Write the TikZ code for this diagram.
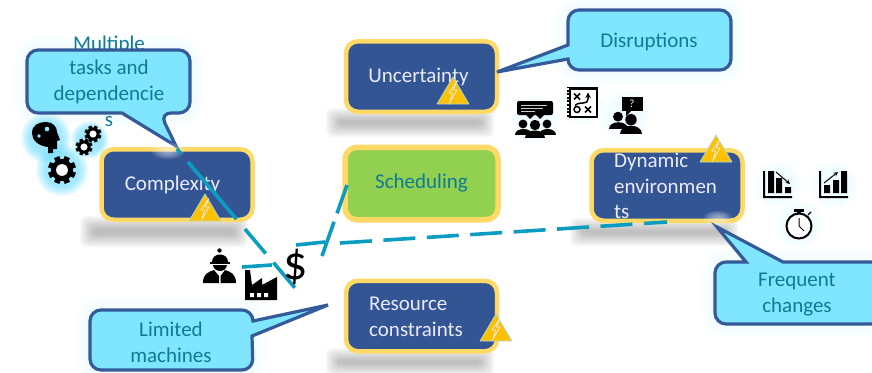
\documentclass[tikz,border=0pt]{standalone}
\usepackage{fontspec}
\setmainfont{Carlito}
\definecolor{boxfill}{HTML}{335593}
\definecolor{boxedge}{HTML}{FFD966}
\definecolor{callfill}{HTML}{80E5FF}
\definecolor{calledge}{HTML}{345A9A}
\definecolor{calltext}{HTML}{0F7A98}
\definecolor{dashcol}{HTML}{0B9CC2}
\definecolor{schedfill}{HTML}{92D050}
\definecolor{warn}{HTML}{FFC000}
\definecolor{warnedge}{HTML}{A8DCE8}
\definecolor{glowcol}{HTML}{4FD5FF}
\tikzset{
 x=1pt,y=-1pt,
 statebox/.style={draw=boxedge,line width=4.5pt,fill=boxfill,rounded corners=12pt,minimum width=151pt,minimum height=70.5pt,inner sep=0pt,text=white!92!blue,font=\fontsize{21}{26}\selectfont},
 calltxt/.style={text=calltext,font=\fontsize{21}{26}\selectfont,align=center,inner sep=0pt},
 calloutline/.style={draw=calledge,line width=3.2pt,fill=callfill,line join=miter},
 flow/.style={draw=dashcol,line width=3.6pt},
}
\newcommand{\softglow}[4]{% x y r opacity
 \foreach \k in {1,...,7}{\fill[glowcol,opacity=#4] (#1,#2) circle ({#3*(1.32-\k*0.07)});}}
\newcommand{\boxshadow}[4]{% x1 x2 y1 y2
 \foreach \k in {0,...,8}{\fill[black,opacity=.03,rounded corners=6pt] ({#1+\k*1.6},{#3+\k*1.5}) rectangle ({#2-\k*1.6},{#4-\k*1.5});}}
\newcommand{\whiteglow}[3]{%
 \foreach \k in {1,...,5}{\fill[white,opacity=.12] (#1,#2) ellipse ({#3*(1.2-\k*.18)} and {#3*.5*(1.2-\k*.18)});}}
\newcommand{\warnsign}[2]{% apex x y
 \begin{scope}[shift={(#1,#2)}]
 \fill[warn,draw=warnedge,line width=.7pt,line join=round] (0,0) -- (16,27) -- (-16,27) -- cycle;
 \fill[warn,draw=white!85!gray,line width=.8pt] (3,6) -- (-4,16) -- (-.5,16) -- (-3,25) -- (4,13) -- (.5,13) -- cycle;
 \end{scope}}
\newcommand{\gear}[4]{% x y r holecolor
 \begin{scope}[shift={(#1,#2)}]
 \foreach \a in {0,45,...,315}{\fill[black,rotate=\a+22.5] (-#3*.2,-#3) rectangle (#3*.2,0);}
 \fill[black] (0,0) circle ({#3*.78});
 \fill[#4] (0,0) circle ({#3*.42});
 \end{scope}}
\newcommand{\person}[3]{% x y(bottom centre) scale
 \begin{scope}[shift={(#1,#2)},scale=#3]
 \fill[black] (0,-13) circle (5.2);
 \fill[black] (-10,0) .. controls (-10,-10) and (10,-10) .. (10,0) -- cycle;
 \end{scope}}
\begin{document}
\begin{tikzpicture}
\useasboundingbox (0,0) rectangle (872,372);
% shadows
\boxshadow{80}{248}{216}{247}
\boxshadow{326}{494}{108}{137}
\boxshadow{570}{738}{218}{246}
\boxshadow{326}{494}{348}{376}
% callout glows
\foreach \w in {30,24,18,12,6}{
 \draw[glowcol,opacity=.016,line width=\w pt,line join=round,rounded corners=11pt] (27,50) rectangle (190,113);
 \draw[glowcol,opacity=.016,line width=\w pt,line join=round,rounded corners=11pt] (568,10) rectangle (731,70);
 \draw[glowcol,opacity=.016,line width=\w pt,line join=round,rounded corners=11pt] (715,262) rectangle (880,324);
 \draw[glowcol,opacity=.016,line width=\w pt,line join=round,rounded corners=11pt] (90,310) rectangle (253,370);
}
% icon glows
\softglow{46}{138}{20}{.1}\softglow{90}{140}{15}{.1}\softglow{62}{170}{21}{.1}
\softglow{535}{120}{21}{.012}\softglow{582}{103}{19}{.012}\softglow{625}{116}{21}{.012}
\softglow{778}{185}{20}{.012}\softglow{834}{185}{20}{.012}\softglow{799}{225}{20}{.012}
% boxes
\node[statebox] (cx) at (177,184.5) {\raisebox{-1pt}{\hspace*{-9pt}Complexity}};
\node[statebox] (un) at (421.5,76.5) {\raisebox{-1pt}{\hspace*{-6pt}Uncertainty}};
\node[statebox,fill=schedfill,text=calltext,line width=5.5pt,minimum width=153pt,minimum height=72.5pt] (sc) at (421.5,183.5) {\raisebox{-2pt}{Scheduling}};
\node[statebox] (dy) at (667,185.5) {};
\node[statebox] (re) at (421.5,316) {};
\node[text=white!92!blue,font=\fontsize{21}{25.5}\selectfont,align=left,inner sep=0pt,anchor=north west] (dytxt) at (614,153) {Dynamic\\environmen\\ts};
\node[text=white!92!blue,font=\fontsize{21}{26}\selectfont,align=left,inner sep=0pt,anchor=west] (retxt) at (369,317) {Resource\\constraints};
% text behind the callout
\node[calltxt,anchor=base] (mlt) at (109,50) {Multiple};
% callouts
\path[calloutline,rounded corners=11pt] (27,50) -- (190,50) -- (190,113) -- (160,113) [sharp corners] -- (176,146) -- (122,113) [rounded corners=11pt] -- (27,113) -- cycle;
\path[calloutline,rounded corners=11pt] (568,10) -- (731,10) -- (731,70) -- (568,70) [sharp corners] -- (568,59) -- (497,72) -- (568,45) [rounded corners=11pt] -- cycle;
\path[calloutline,rounded corners=11pt] (715,262) [sharp corners] -- (746,262) -- (717,227) -- (783,262) [rounded corners=11pt] -- (882,262) -- (882,324) -- (715,324) -- cycle;
\path[calloutline,rounded corners=11pt] (90,310) -- (253,310) [sharp corners] -- (253,321) -- (328,305) -- (252,336) [rounded corners=11pt] -- (253,370) -- (90,370) -- cycle;
% callout texts
\node[calltxt,anchor=north] (mtl) at (109,60) {tasks and\\dependencie\\s};
\node[calltxt] (dis) at (649,41.5) {Disruptions};
\node[calltxt] (fre) at (797,295) {Frequent\\changes};
\node[calltxt] (lim) at (171,342.5) {Limited\\machines};
% glints
\whiteglow{168}{151}{16}
\whiteglow{718}{218}{14}
% coordinates for connectors
\coordinate (cxa) at (177,149);
\coordinate (cxb) at (295,288);
\coordinate (w1) at (242,267);
\coordinate (w2) at (272,265);
\coordinate (d1) at (296,245);
\coordinate (d2) at (325,242);
\coordinate (sa) at (347,185);
\coordinate (sb) at (322,256);
\coordinate (la) at (340,243);
\coordinate (lb) at (667,222);
% connectors
\draw[flow,dash pattern=on 6pt off 11pt on 75pt off 13pt on 32pt off 12pt on 33pt] (cxa) -- (cxb);
\draw[flow] (w1) -- (w2);
\draw[flow] (d1) -- (d2);
\draw[flow,dash pattern=on 30pt off 9pt on 40pt] (sa) -- (sb);
\draw[flow,dash pattern=on 32pt off 11.5pt] (la) -- (lb);
% warning signs
\warnsign{205}{194}
\warnsign{453}{77}
\warnsign{716}{135}
\warnsign{496}{314}
% head with gears
\fill[black] (48,153) -- (48,147) .. controls (38,146) and (32,140) .. (32,133) .. controls (32,125) and (39,122) .. (46,122) .. controls (53,122) and (57,127) .. (57,132) -- (60,140) -- (57,141) -- (57,149) -- (53,149) -- (53,153) -- cycle;
\gear{47}{129}{5.5}{glowcol!60}
\gear{39}{136}{4.5}{glowcol!60}
\gear{93}{134}{8.5}{white}
\gear{84}{147}{8.5}{white}
\gear{62}{170}{14}{white}
% worker
\fill[black] (212,262) .. controls (212,252) and (228,252) .. (228,262) -- cycle;
\fill[black] (219.5,250.5) circle (2.2);
\fill[black] (210,262) rectangle (230,264);
\fill[black] (213,265) .. controls (214,273) and (226,273) .. (227,265) -- cycle;
\fill[black] (203,283) .. controls (203,274) and (208,272) .. (214,270) -- (219,276) -- (219,283) -- cycle;
\fill[black] (236,283) .. controls (236,274) and (231,272) .. (225,270) -- (220.5,276) -- (220.5,283) -- cycle;
% factory
\fill[black] (245,300) -- (245,270) -- (250,270) -- (252,285) -- (262,278) -- (262,285) -- (277,277) -- (277,300) -- cycle;
\fill[white] (250,293) rectangle (254,297) (257,293) rectangle (261,297) (264,293) rectangle (268,297);
% dollar
\node[inner sep=0pt,font=\fontsize{48}{48}\selectfont,text=black] (usd) at (296,267) {\$};
% chat group
\fill[black,rounded corners=2pt] (517,101) rectangle (553,115);
\fill[black] (526,115) -- (530,119) -- (534,115) -- cycle (536,115) -- (540,119) -- (544,115) -- cycle;
\draw[white!80!black,line width=.8pt] (521,105) -- (547,105) (521,108) -- (543,108) (521,111) -- (535,111);
\person{523}{135}{.85}\person{547}{135}{.85}\person{535}{138}{1}
% map
\fill[black] (567,87) rectangle (598,118);
\fill[white] (570.5,89.5) rectangle (596,115.5);
\draw[white,line width=1.4pt,dash pattern=on 1.6pt off 2pt] (568,88) -- (568,118);
\draw[black,line width=1.7pt] (574,93.5) -- (580,99.5) (580,93.5) -- (574,99.5) (585,106.5) -- (591,112.5) (591,106.5) -- (585,112.5);
\draw[black,line width=1.5pt] (577,109.5) circle (3);
\draw[black,line width=1.5pt,-stealth] (575,105.5) .. controls (578,103) and (580,103) .. (583,103) .. controls (586,103) and (588,102) .. (588,99) -- (588,92.5);
% persons speech
\fill[black] (622,97) rectangle (643,111);
\fill[black] (626,111) -- (626,116) -- (631,111) -- cycle;
\node[inner sep=0pt,text=white,font=\fontsize{11}{11}\selectfont] (qm) at (632,104) {?};
\person{618}{129}{.95}\person{631}{134}{1.1}
% charts
\fill[black] (763,171) rectangle (765,198) (763,196) rectangle (792,198);
\fill[black] (768,171) rectangle (774,193) (776,178) rectangle (782,193) (785,187) rectangle (791,193);
\draw[black,line width=1pt,-stealth] (776,172) -- (790,184);
\fill[black] (819,171) rectangle (821,198) (819,196) rectangle (848,198);
\fill[black] (824,185) rectangle (830,193) (833,180) rectangle (839,193) (841,171) rectangle (847,193);
\draw[black,line width=1pt,-stealth] (824,183) -- (838,172);
% stopwatch
\draw[black,line width=2pt,fill=white] (799,226) circle (12.5);
\fill[black] (794,209) rectangle (804,212);
\fill[black] (797,211) rectangle (801,214);
\draw[black,line width=1.2pt] (808,215) -- (811,212);
\draw[black,line width=1pt] (799,218) -- (799,226) -- (804,231);
\end{tikzpicture}
\end{document}
